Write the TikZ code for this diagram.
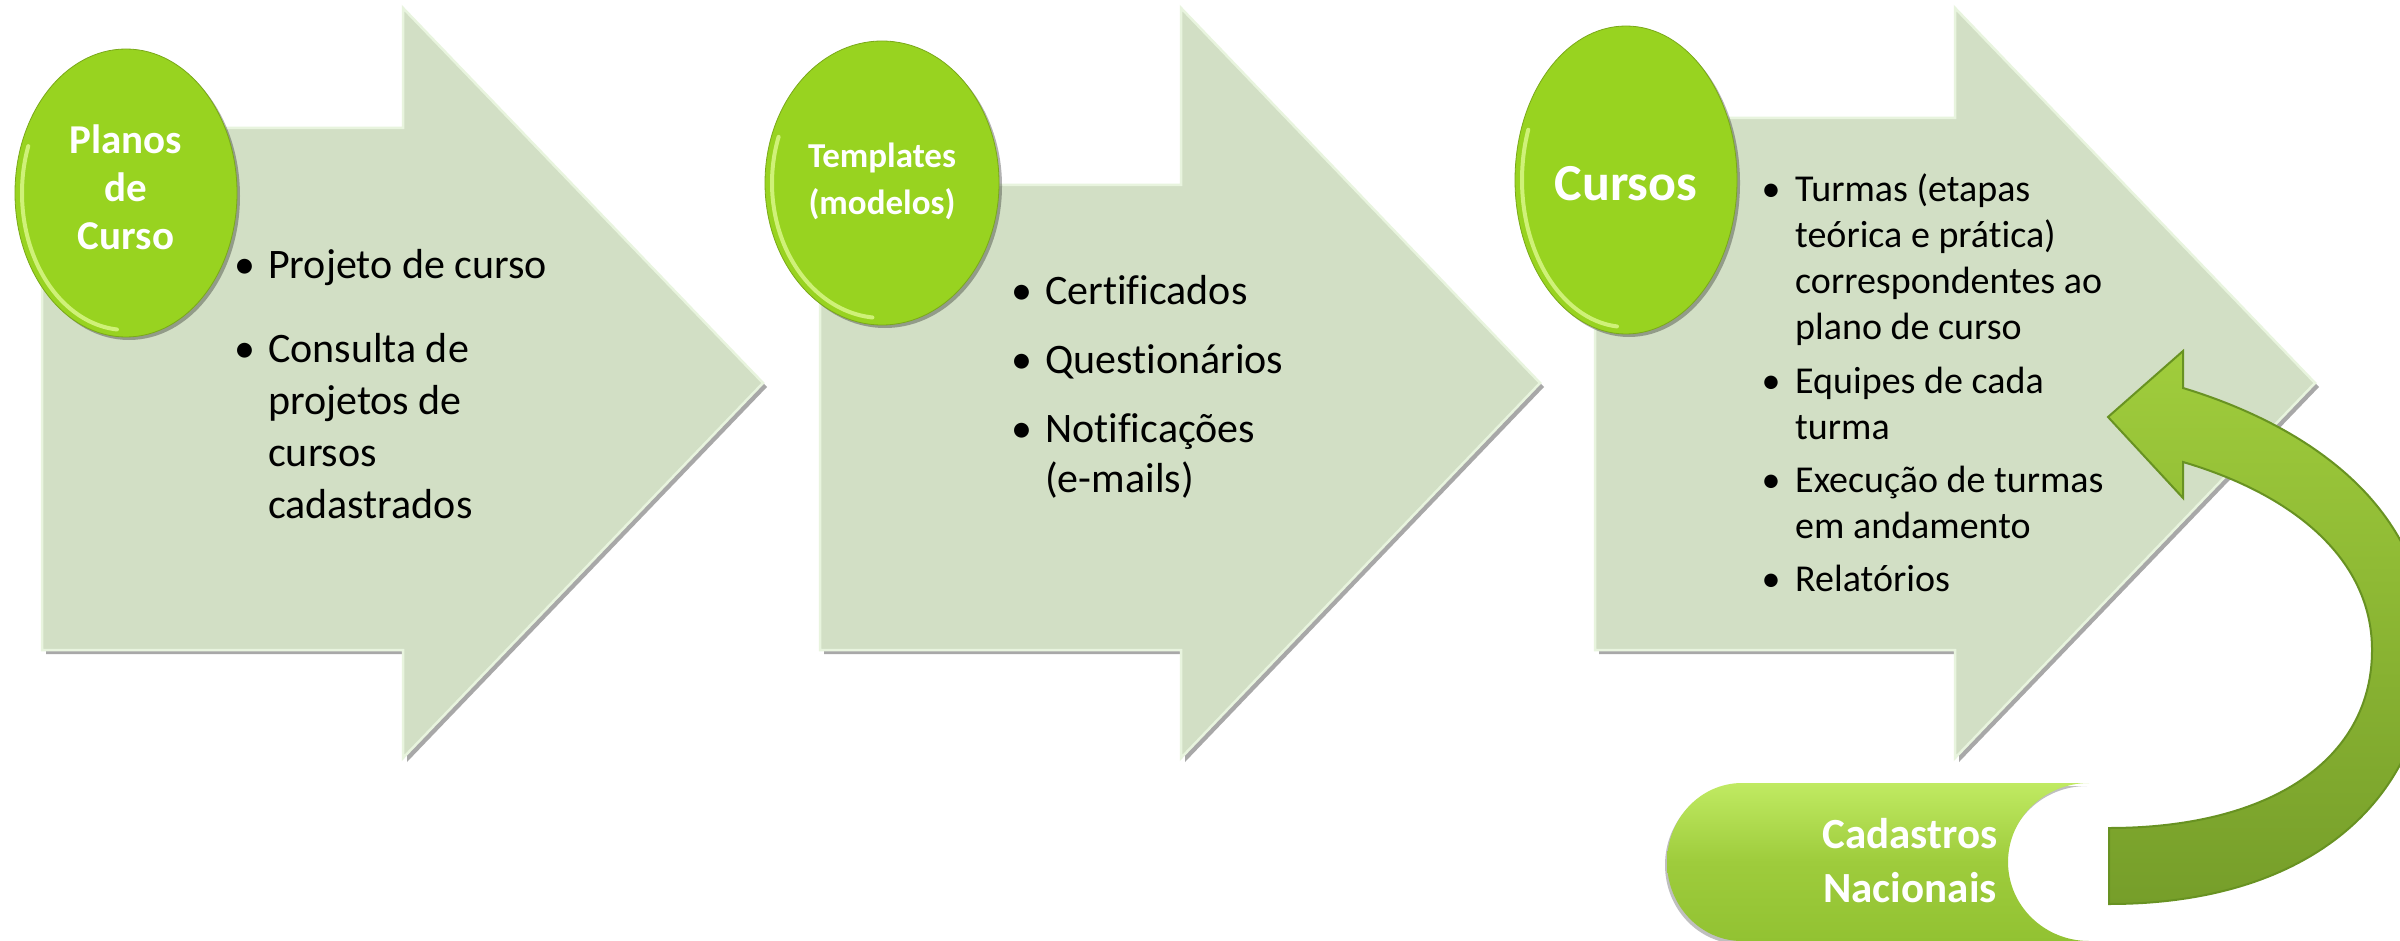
\documentclass[tikz,border=0pt]{standalone}
\usepackage{fontspec}
\setmainfont{Carlito}[Ligatures={NoCommon}]
\usetikzlibrary{shadows,shapes.geometric}
\definecolor{arrowfill}{RGB}{210,223,197}
\definecolor{arrowrim}{RGB}{232,244,222}
\definecolor{ballgreen}{RGB}{152,211,32}
\definecolor{ballrim}{RGB}{214,245,130}
\definecolor{curvelight}{RGB}{160,205,60}
\definecolor{curvedark}{RGB}{118,158,42}
\definecolor{curveedge}{RGB}{104,146,34}
\definecolor{cadtop}{RGB}{192,234,98}
\definecolor{cadmid}{RGB}{158,204,60}
\definecolor{cadbot}{RGB}{146,194,50}
\tikzset{
  procarrow/.style={fill=arrowfill, draw=arrowrim, line width=2.5pt, line join=miter,
    drop shadow={shadow xshift=4pt, shadow yshift=-4pt, opacity=0.45, fill=black!75}},
  ball/.style={ellipse, fill=ballgreen, inner sep=0pt, draw=ballgreen!80!black, line width=0.8pt,
    drop shadow={shadow xshift=3pt, shadow yshift=-3pt, opacity=0.3, fill=black}},
  rimlight/.style={draw=ballrim, line width=4pt, line cap=round, opacity=0.9},
  balltext/.style={text=white, align=center, inner sep=0pt},
  bul/.style={anchor=base, inner sep=0pt},
  itemtext/.style={anchor=base west, inner sep=0pt},
  listA/.style={font={\fontsize{42}{52}\selectfont}},
  listB/.style={font={\fontsize{42}{50}\selectfont}},
  listC/.style={font={\fontsize{38}{46}\selectfont}},
  curvearrow/.style={top color=curvelight, bottom color=curvedark, draw=curveedge, line width=2pt, line join=miter},
  cadshape/.style={top color=cadtop, bottom color=cadbot, middle color=cadmid,
    drop shadow={shadow xshift=-2pt, shadow yshift=-3pt, opacity=0.25, fill=black}},
}
\begin{document}
\begin{tikzpicture}[x=1pt, y=-1pt]
\useasboundingbox (0,0) rectangle (2400,941);
\fill[white] (0,0) rectangle (2400,941);

% process arrows
\path[procarrow] (42,128) -- (403,128) -- (403,8) -- (763,383) -- (403,758) -- (403,650) -- (42,650) -- cycle;
\path[procarrow] (820,185) -- (1181,185) -- (1181,8) -- (1540,383) -- (1181,758) -- (1181,650) -- (820,650) -- cycle;
\path[procarrow] (1595,118) -- (1955,118) -- (1955,8) -- (2315,383) -- (1955,758) -- (1955,650) -- (1595,650) -- cycle;

% green balls
\node[ball, minimum width=222pt, minimum height=288pt] (c1) at (126,193) {};
\node[ball, minimum width=234pt, minimum height=284pt] (c2) at (882,183) {};
\node[ball, minimum width=222pt, minimum height=308pt] (c3) at (1626,180) {};
\draw[rimlight] (126,193) ++(95:104 and 137) arc[start angle=95, end angle=200, x radius=104, y radius=137];
\draw[rimlight] (882,183) ++(95:110 and 135) arc[start angle=95, end angle=200, x radius=110, y radius=135];
\draw[rimlight] (1626,180) ++(95:104 and 147) arc[start angle=95, end angle=200, x radius=104, y radius=147];

% ball texts
\node[balltext, font={\bfseries\fontsize{41}{48}\selectfont}] (tc1) at (126,187) {Planos\\de\\Curso};
\node[balltext, font={\bfseries\fontsize{35}{47}\selectfont}] (tc2) at (882,181) {Templates\\(modelos)};
\node[balltext, font={\bfseries\fontsize{52}{60}\selectfont}] (tc3) at (1626,184) {Cursos};

% list 1
\node[bul, listA] (b11) at (245,278) {•};
\node[itemtext, listA] (t11) at (268,278) {Projeto de curso};
\node[bul, listA] (b12) at (245,362) {•};
\node[itemtext, listA] (t12) at (268,362) {\parbox[t]{400pt}{\raggedright Consulta de\\projetos de\\cursos\\cadastrados}};

% list 2
\node[bul, listB] (b21) at (1022,304) {•};
\node[itemtext, listB] (t21) at (1045,304) {Certificados};
\node[bul, listB] (b22) at (1022,373) {•};
\node[itemtext, listB] (t22) at (1045,373) {Questionários};
\node[bul, listB] (b23) at (1022,442) {•};
\node[itemtext, listB] (t23) at (1045,442) {\parbox[t]{400pt}{\raggedright Notificações\\(e-mails)}};

% list 3
\node[bul, listC] (b31) at (1771,202) {•};
\node[itemtext, listC] (t31) at (1795,202) {\parbox[t]{500pt}{\raggedright Turmas (etapas\\teórica e prática)\\correspondentes ao\\plano de curso}};
\node[bul, listC] (b32) at (1771,393) {•};
\node[itemtext, listC] (t32) at (1795,393) {\parbox[t]{500pt}{\raggedright Equipes de cada\\turma}};
\node[bul, listC] (b33) at (1771,492) {•};
\node[itemtext, listC] (t33) at (1795,492) {\parbox[t]{500pt}{\raggedright Execução de turmas\\em andamento}};
\node[bul, listC] (b34) at (1771,591) {•};
\node[itemtext, listC] (t34) at (1795,591) {Relatórios};

% Cadastros Nacionais
\path[cadshape] (1742,783) -- (2089,783) arc[start angle=270, end angle=90, x radius=81, y radius=79]
  -- (1742,941) arc[start angle=90, end angle=270, x radius=75, y radius=79] -- cycle;
\node[balltext, font={\bfseries\fontsize{43}{54}\selectfont}] (cad) at (1910,861) {Cadastros\\Nacionais};

% curved arrow
\coordinate (tailtop) at (2109,828);
\coordinate (tip) at (2108,417);
\path[curvearrow] (2183,388) -- (2183,351) -- (tip) -- (2183,498) -- (2183,462)
  .. controls (2295,495) and (2372,560) .. (2372,650)
  .. controls (2372,760) and (2270,828) .. (tailtop)
  -- (2109,904)
  .. controls (2320,904) and (2428,790) .. (2428,650)
  .. controls (2428,505) and (2305,425) .. (2183,388) -- cycle;
\end{tikzpicture}
\end{document}
